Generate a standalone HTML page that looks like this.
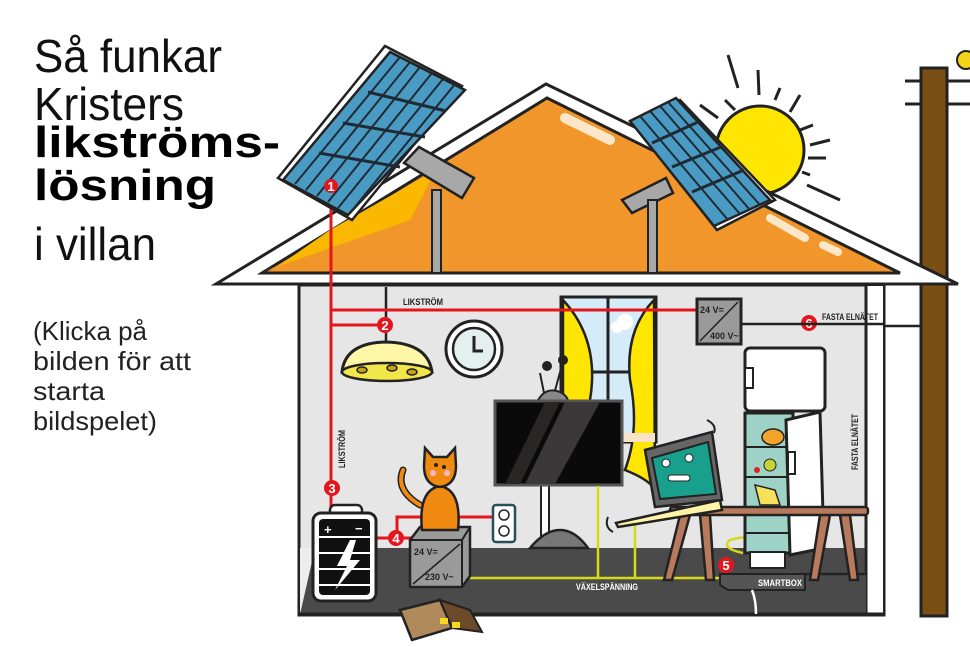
<!DOCTYPE html>
<html><head><meta charset="utf-8"><style>
html,body{margin:0;padding:0;background:#fff;width:970px;height:647px;overflow:hidden}
svg{display:block}
text{font-family:"Liberation Sans",sans-serif}
</style></head><body>
<svg width="970" height="647" viewBox="0 0 970 647" xmlns="http://www.w3.org/2000/svg">
<!-- Title -->
<text x="34" y="72" font-size="46" textLength="188" lengthAdjust="spacingAndGlyphs" fill="#111">Så funkar</text>
<text x="34" y="120" font-size="46" textLength="150" lengthAdjust="spacingAndGlyphs" fill="#111">Kristers</text>
<text x="34" y="157" font-size="44" font-weight="bold" textLength="246" lengthAdjust="spacingAndGlyphs" fill="#000">likströms-</text>
<text x="34" y="200" font-size="44" font-weight="bold" textLength="182" lengthAdjust="spacingAndGlyphs" fill="#000">lösning</text>
<text x="34" y="260" font-size="46" textLength="122" lengthAdjust="spacingAndGlyphs" fill="#111">i villan</text>
<text x="33" y="340" font-size="26" textLength="114" lengthAdjust="spacingAndGlyphs" fill="#222">(Klicka på</text>
<text x="33" y="370" font-size="26" textLength="158" lengthAdjust="spacingAndGlyphs" fill="#222">bilden för att</text>
<text x="33" y="400" font-size="26" textLength="72" lengthAdjust="spacingAndGlyphs" fill="#222">starta</text>
<text x="33" y="430" font-size="26" textLength="124" lengthAdjust="spacingAndGlyphs" fill="#222">bildspelet)</text>

<!-- Pole -->
<line x1="905" y1="81" x2="970" y2="81" stroke="#222" stroke-width="3"/>
<line x1="905" y1="104" x2="970" y2="104" stroke="#222" stroke-width="3"/>
<rect x="921" y="68" width="26" height="548" fill="#7a4e14" stroke="#222" stroke-width="3"/>
<circle cx="966" cy="60" r="9" fill="#f3d21a" stroke="#222" stroke-width="2"/>

<!-- Sun -->
<g stroke="#222" stroke-width="3">
<line x1="728" y1="55" x2="738" y2="88"/><line x1="758" y1="70" x2="759" y2="95"/>
<line x1="780" y1="88" x2="775" y2="100"/><line x1="800" y1="95" x2="790" y2="112"/>
<line x1="813" y1="125" x2="800" y2="130"/><line x1="830" y1="140" x2="810" y2="145"/>
<line x1="826" y1="158" x2="808" y2="158"/><line x1="810" y1="175" x2="802" y2="172"/>
<line x1="840" y1="200" x2="807" y2="185"/><line x1="700" y1="105" x2="718" y2="118"/>
<line x1="725" y1="100" x2="735" y2="110"/>
</g>
<ellipse cx="760" cy="150" rx="44" ry="44" fill="#ffe600" stroke="#222" stroke-width="3"/>

<!-- Roof -->
<polygon points="546,84 958,284 216,284" fill="#fff" stroke="#222" stroke-width="3"/>
<polygon points="547,98 900,273 262,273" fill="#f0962a" stroke="#222" stroke-width="3"/>
<polygon points="330,230 436,170 410,220 262,272 280,265" fill="#fbb800"/>
<line x1="565" y1="118" x2="610" y2="140" stroke="#fde7c8" stroke-width="10" stroke-linecap="round"/>
<line x1="770" y1="218" x2="805" y2="238" stroke="#fde7c8" stroke-width="8" stroke-linecap="round"/>
<line x1="823" y1="245" x2="838" y2="252" stroke="#fde7c8" stroke-width="8" stroke-linecap="round"/>

<!-- Wall -->
<rect x="299" y="285" width="585" height="330" fill="#e6e6e6" stroke="#222" stroke-width="3"/>
<rect x="866" y="286" width="17" height="328" fill="#fff"/>
<line x1="866" y1="286" x2="866" y2="614" stroke="#222" stroke-width="3"/>
<polygon points="300,614 315,548 866,548 866,614" fill="#4a4a4a"/>
<polygon points="300,614 315,548 300,548" fill="#ededed"/>
<line x1="299" y1="614" x2="884" y2="614" stroke="#222" stroke-width="3"/>

<!-- Window -->
<rect x="561" y="297" width="95" height="145" fill="#d6ebf8" stroke="#222" stroke-width="3"/>
<line x1="608" y1="297" x2="608" y2="442" stroke="#222" stroke-width="3"/>
<line x1="561" y1="372" x2="656" y2="372" stroke="#222" stroke-width="3"/>
<path d="M563,300 Q600,340 590,400 Q595,440 575,465 L563,450 Z" fill="#ffe600" stroke="#222" stroke-width="2.5"/>
<path d="M654,300 Q625,330 630,380 Q640,430 625,470 Q650,480 655,490 Z" fill="#ffe600" stroke="#222" stroke-width="2.5"/>
<circle cx="625" cy="322" r="8" fill="#fff"/><circle cx="617" cy="327" r="6" fill="#fff"/>
<rect x="620" y="433" width="35" height="9" fill="#f8e3c8"/>

<!-- Clock -->
<circle cx="474" cy="349" r="28" fill="#fff" stroke="#222" stroke-width="3"/>
<circle cx="474" cy="349" r="21" fill="#e3f0ee" stroke="#222" stroke-width="2.5"/>
<path d="M474,336 L474,351 L483,351" stroke="#222" stroke-width="3" fill="none"/>

<!-- Lamp -->
<line x1="386" y1="287" x2="386" y2="345" stroke="#222" stroke-width="2.5"/>
<path d="M342,372 Q345,343 386,342 Q428,343 432,372 Z" fill="#fff6a8" stroke="#222" stroke-width="3"/>
<ellipse cx="387" cy="372" rx="45" ry="9" fill="#f2e74a" stroke="#222" stroke-width="2.5"/>
<ellipse cx="362" cy="370" rx="5" ry="3" fill="#c8a020" stroke="#222" stroke-width="1.5"/>
<ellipse cx="392" cy="368" rx="5" ry="3" fill="#c8a020" stroke="#222" stroke-width="1.5"/>
<ellipse cx="412" cy="372" rx="5" ry="3" fill="#c8a020" stroke="#222" stroke-width="1.5"/>

<!-- Red wiring -->
<g stroke="#e3161e" stroke-width="3" fill="none">
<line x1="331" y1="186" x2="331" y2="515"/>
<line x1="331" y1="310" x2="698" y2="310"/>
<line x1="331" y1="325" x2="385" y2="325"/>
<line x1="375" y1="538" x2="412" y2="538"/>
<polyline points="397,538 397,517 494,517"/>
</g>

<!-- Solar panel 1 -->
<polygon points="404,163 419,147 474,178 462,198" fill="#a8a8a8" stroke="#222" stroke-width="2.5"/>
<rect x="432" y="190" width="9" height="83" fill="#a8a8a8" stroke="#222" stroke-width="2"/>
<polygon points="278,178 385,46 462,86 352,220" fill="#fff" stroke="#222" stroke-width="2.5"/>
<polygon points="283,180 390,52 465,90 348,215" fill="#4a9bc4" stroke="#222" stroke-width="2.5"/>
<g stroke="#1f2a33" stroke-width="2">
<line x1="295" y1="184" x2="400" y2="57"/><line x1="306" y1="190" x2="410" y2="62"/>
<line x1="317" y1="196" x2="420" y2="67"/><line x1="328" y1="202" x2="432" y2="73"/>
<line x1="338" y1="208" x2="443" y2="79"/><line x1="354" y1="208" x2="455" y2="84"/>
</g>
<g stroke="#1f2a33" stroke-width="3">
<line x1="368" y1="92" x2="446" y2="111"/><line x1="343" y1="123" x2="425" y2="137"/><line x1="319" y1="153" x2="400" y2="167"/>
</g>

<!-- Solar panel 2 -->
<polygon points="622,200 666,178 673,193 632,213" fill="#a8a8a8" stroke="#222" stroke-width="2.5"/>
<rect x="648" y="200" width="9" height="73" fill="#a8a8a8" stroke="#222" stroke-width="2"/>
<polygon points="632,123 680,100 775,200 717,230" fill="#fff" stroke="#222" stroke-width="2.5"/>
<polygon points="630,121 676,98 770,200 714,226" fill="#4a9bc4" stroke="#222" stroke-width="2.5"/>
<g stroke="#1f2a33" stroke-width="2">
<line x1="640" y1="116" x2="728" y2="220"/><line x1="650" y1="111" x2="740" y2="214"/>
<line x1="660" y1="106" x2="750" y2="210"/><line x1="668" y1="102" x2="760" y2="205"/>
</g>
<g stroke="#1f2a33" stroke-width="3">
<line x1="652" y1="143" x2="698" y2="122"/><line x1="672" y1="167" x2="721" y2="147"/><line x1="692" y1="192" x2="744" y2="170"/>
</g>

<!-- Numbered circles -->
<g font-family="Liberation Serif,serif" font-weight="bold" font-size="13" fill="#fff" text-anchor="middle">
<circle cx="331" cy="186" r="7" fill="#e3161e"/><text x="331" y="191">1</text>
<circle cx="385" cy="325" r="8" fill="#e3161e"/><text x="385" y="330">2</text>
<circle cx="332" cy="488" r="8" fill="#e3161e"/><text x="332" y="493">3</text>
<circle cx="396" cy="538" r="8" fill="#e3161e"/><text x="396" y="543">4</text>
<circle cx="726" cy="565" r="8" fill="#e3161e"/><text x="726" y="570">5</text>
<circle cx="809" cy="323" r="8" fill="#e3161e"/><text x="809" y="328">6</text>
</g>
<g font-weight="bold" font-size="9" fill="#222">
<text x="403" y="305" textLength="40" lengthAdjust="spacingAndGlyphs">LIKSTRÖM</text>
<text x="345" y="468" transform="rotate(-90 345 468)" textLength="38" lengthAdjust="spacingAndGlyphs">LIKSTRÖM</text>
<text x="822" y="320" textLength="56" lengthAdjust="spacingAndGlyphs">FASTA ELNÄTET</text>
<text x="858" y="470" transform="rotate(-90 858 470)" textLength="56" lengthAdjust="spacingAndGlyphs">FASTA ELNÄTET</text>
</g>
<text x="576" y="590" font-weight="bold" font-size="9" fill="#fff" textLength="62" lengthAdjust="spacingAndGlyphs">VÄXELSPÄNNING</text>

<!-- Black/grid wires -->
<line x1="741" y1="324" x2="884" y2="324" stroke="#222" stroke-width="2.5"/>
<line x1="884" y1="326" x2="920" y2="326" stroke="#222" stroke-width="2.5"/>
<line x1="866" y1="324" x2="866" y2="574" stroke="#222" stroke-width="2.5"/>
<line x1="866" y1="574" x2="800" y2="574" stroke="#222" stroke-width="2.5"/>

<!-- 400V converter -->
<rect x="697" y="299" width="44" height="45" fill="#9a9a9a" stroke="#222" stroke-width="3"/>
<line x1="700" y1="341" x2="738" y2="302" stroke="#222" stroke-width="1.5"/>
<text x="700" y="313" font-size="9" font-weight="bold" fill="#222">24 V=</text>
<text x="710" y="339" font-size="9" font-weight="bold" fill="#222">400 V~</text>

<!-- TV -->
<rect x="541" y="484" width="8" height="55" fill="#fff" stroke="#222" stroke-width="2"/>
<path d="M530,548 Q545,530 560,530 Q575,530 588,548 Z" fill="#777" stroke="#222" stroke-width="2.5"/>
<line x1="545" y1="398" x2="540" y2="373" stroke="#222" stroke-width="2"/><circle cx="547" cy="366" r="5" fill="#222"/>
<line x1="553" y1="398" x2="562" y2="365" stroke="#222" stroke-width="2"/><circle cx="563" cy="360" r="5" fill="#222"/>
<path d="M537,402 Q545,386 560,392 Q568,396 568,402 Z" fill="#888" stroke="#222" stroke-width="2"/>
<rect x="495" y="401" width="127" height="84" fill="#0a0a0a" stroke="#555" stroke-width="3"/>
<polygon points="545,402 560,402 520,484 505,484" fill="#2a2626"/>
<polygon points="565,402 600,402 555,484 525,484" fill="#3a3838"/>

<!-- Yellow wires -->
<g stroke="#d7d81a" stroke-width="2.5" fill="none">
<line x1="470" y1="578" x2="720" y2="578"/>
<line x1="598" y1="486" x2="598" y2="578"/>
<line x1="635" y1="522" x2="635" y2="578"/>
<path d="M743,553 Q720,548 730,540 Q745,535 760,540"/>
</g>

<!-- Fridge -->
<rect x="745" y="348" width="80" height="63" rx="5" fill="#fff" stroke="#222" stroke-width="3"/>
<rect x="745" y="368" width="8" height="20" fill="#fff" stroke="#222" stroke-width="2"/>
<rect x="745" y="413" width="48" height="140" fill="#9fd2c6" stroke="#222" stroke-width="3"/>
<g stroke="#222" stroke-width="2"><line x1="745" y1="447" x2="793" y2="447"/><line x1="745" y1="477" x2="793" y2="477"/><line x1="745" y1="507" x2="793" y2="507"/><line x1="745" y1="533" x2="793" y2="533"/></g>
<ellipse cx="773" cy="437" rx="11" ry="8" fill="#f2a32a" stroke="#222" stroke-width="1.5"/>
<circle cx="770" cy="465" r="6" fill="#c8d232" stroke="#222" stroke-width="1"/>
<circle cx="757" cy="470" r="3" fill="#d22"/>
<polygon points="755,485 775,490 780,505 760,505" fill="#f5e15a" stroke="#222" stroke-width="1.5"/>
<polygon points="786,420 820,412 824,548 790,555" fill="#fff" stroke="#222" stroke-width="3"/>
<rect x="788" y="452" width="7" height="22" fill="#fff" stroke="#222" stroke-width="2"/>

<!-- Table -->
<g stroke="#222" stroke-width="2.5" fill="#b87a5c">
<polygon points="680,515 690,515 672,580 664,580"/>
<polygon points="700,515 710,515 714,580 706,580"/>
<polygon points="820,515 830,515 818,580 810,580"/>
<polygon points="840,515 850,515 858,580 850,580"/>
<rect x="670" y="507" width="198" height="8" rx="3"/>
</g>

<!-- Laptop -->
<polygon points="616,523 720,500 722,510 618,527" fill="#fff3a8" stroke="#222" stroke-width="2.5"/>
<polygon points="645,450 712,432 722,500 655,507" fill="#666" stroke="#222" stroke-width="2.5"/>
<polygon points="652,458 708,442 716,494 660,499" fill="#18a08c" stroke="#222" stroke-width="2"/>
<circle cx="666" cy="463" r="4" fill="#fff" stroke="#222" stroke-width="1"/>
<circle cx="689" cy="458" r="4" fill="#fff" stroke="#222" stroke-width="1"/>
<rect x="668" y="475" width="22" height="6" rx="3" fill="#fff" stroke="#222" stroke-width="1"/>
<path d="M707,420 Q717,425 714,433" stroke="#222" stroke-width="2" fill="none"/>
<path d="M608,517 Q604,527 613,532" stroke="#222" stroke-width="2" fill="none"/>

<!-- Smartbox -->
<polygon points="720,574 805,574 805,590 728,590 720,585" fill="#555" stroke="#222" stroke-width="2"/>
<rect x="750" y="552" width="35" height="16" fill="#fff" stroke="#222" stroke-width="2"/>
<text x="758" y="586" font-weight="bold" font-size="9" fill="#fff" textLength="44" lengthAdjust="spacingAndGlyphs">SMARTBOX</text>
<path d="M752,590 Q756,600 756,614" stroke="#fff" stroke-width="2.5" fill="none"/>

<!-- Battery -->
<rect x="330" y="505" width="32" height="12" rx="5" fill="#fff" stroke="#222" stroke-width="2.5"/>
<rect x="313" y="513" width="63" height="88" rx="8" fill="#fff" stroke="#222" stroke-width="3"/>
<rect x="319" y="519" width="51" height="76" rx="4" fill="#111"/>
<g stroke="#fff" stroke-width="2"><line x1="319" y1="537" x2="370" y2="537"/><line x1="319" y1="553" x2="370" y2="553"/><line x1="319" y1="569" x2="370" y2="569"/><line x1="319" y1="585" x2="370" y2="585"/></g>
<polygon points="350,540 337,566 347,566 335,590 360,560 350,560 356,540" fill="#fff"/>
<text x="324" y="534" fill="#fff" font-size="13" font-weight="bold">+</text>
<text x="355" y="533" fill="#fff" font-size="13" font-weight="bold">−</text>

<!-- 230V converter -->
<polygon points="410,540 420,527 470,527 470,576 462,587 410,587" fill="#9a9a9a" stroke="#222" stroke-width="2.5"/>
<line x1="410" y1="540" x2="462" y2="540" stroke="#222" stroke-width="2"/>
<line x1="462" y1="540" x2="462" y2="587" stroke="#222" stroke-width="2"/>
<line x1="462" y1="540" x2="470" y2="527" stroke="#222" stroke-width="2"/>
<line x1="413" y1="584" x2="460" y2="544" stroke="#222" stroke-width="1.5"/>
<text x="414" y="555" font-size="9" font-weight="bold" fill="#222">24 V=</text>
<text x="425" y="580" font-size="9" font-weight="bold" fill="#222">230 V~</text>

<!-- Outlet -->
<rect x="493" y="505" width="22" height="37" rx="3" fill="#fff" stroke="#2b4f5a" stroke-width="2.5"/>
<circle cx="504" cy="515" r="5" fill="#fff" stroke="#222" stroke-width="1.5"/>
<circle cx="504" cy="531" r="5" fill="#fff" stroke="#222" stroke-width="1.5"/>

<!-- Cat -->
<path d="M420,505 Q395,490 403,470" stroke="#222" stroke-width="7" fill="none" stroke-linecap="round"/>
<path d="M420,505 Q395,490 403,470" stroke="#f08a10" stroke-width="4" fill="none" stroke-linecap="round"/>
<path d="M422,530 Q418,490 440,486 Q462,490 458,530 Z" fill="#f08a10" stroke="#222" stroke-width="2.5"/>
<path d="M424,466 L425,448 L433,457 L447,457 L455,448 L456,466 Q456,485 440,487 Q424,485 424,466 Z" fill="#f08a10" stroke="#222" stroke-width="2.5"/>
<circle cx="436" cy="465" r="2" fill="#222"/><circle cx="444" cy="467" r="2" fill="#222"/>
<circle cx="433" cy="473" r="3" fill="#f6b8c8"/><circle cx="447" cy="473" r="3" fill="#f6b8c8"/>

<!-- Box -->
<polygon points="400,610 440,600 452,628 412,640" fill="#b08a5a" stroke="#222" stroke-width="2.5"/>
<polygon points="440,600 470,610 482,632 452,628" fill="#6b4a2a" stroke="#222" stroke-width="2"/>
<rect x="440" y="618" width="8" height="6" fill="#f5d820"/><rect x="452" y="622" width="8" height="6" fill="#f5d820"/>
</svg>
</body></html>
